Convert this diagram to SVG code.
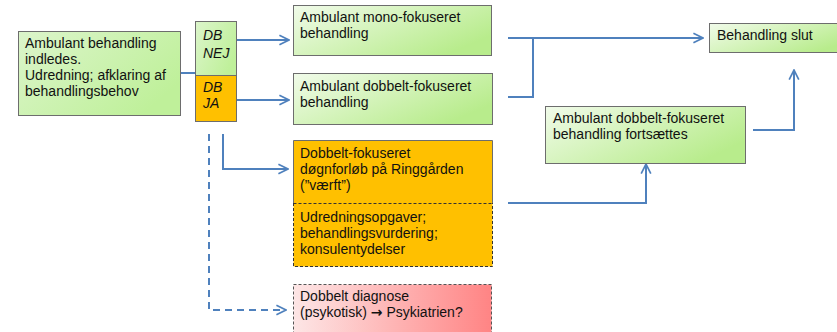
<svg xmlns="http://www.w3.org/2000/svg" width="837" height="332" viewBox="0 0 837 332">
<defs>
<linearGradient id="g" x1="0" y1="0" x2="1" y2="0.6">
<stop offset="0" stop-color="#f1fbea"/>
<stop offset="1" stop-color="#b8ec8c"/>
</linearGradient>
<linearGradient id="gl" x1="0" y1="0" x2="1" y2="0.6">
<stop offset="0" stop-color="#dcf5cb"/>
<stop offset="1" stop-color="#bff09a"/>
</linearGradient>
<linearGradient id="p" x1="0" y1="0" x2="1" y2="0">
<stop offset="0" stop-color="#fde6e6"/>
<stop offset="1" stop-color="#ff8484"/>
</linearGradient>
<marker id="a" viewBox="0 0 10 10" refX="9" refY="5" markerWidth="6" markerHeight="6" orient="auto" markerUnits="strokeWidth">
<path d="M1,1 L9,5 L1,9" fill="none" stroke="#4f81bd" stroke-width="1.4"/>
</marker>
</defs>
<style>
.b{stroke:#6d6d6d;stroke-width:1}
.t{font-family:"Liberation Sans",Arial,sans-serif;font-size:14px;fill:#111}
.i{font-style:italic}
.c{fill:none;stroke:#4f81bd;stroke-width:2}
.ar{font-family:"DejaVu Sans",sans-serif;font-weight:bold}
</style>
<g id="connectors">
<path class="c" d="M181,73 H195"/>
<path class="c" d="M236,40 H289" marker-end="url(#a)"/>
<path class="c" d="M236,100 H289" marker-end="url(#a)"/>
<path class="c" d="M223,134 V169 H288" marker-end="url(#a)"/>
<path class="c" d="M209,134 V310 H286" stroke-dasharray="7,5" marker-end="url(#a)"/>
<path class="c" d="M508,38 H703" marker-end="url(#a)"/>
<path class="c" d="M508,97 H533 V38"/>
<path class="c" d="M508,203 H646 V164" marker-end="url(#a)"/>
<path class="c" d="M753,130 H794 V70" marker-end="url(#a)"/>
</g>
<g id="start">
<rect class="b" x="18.5" y="31.5" width="162" height="84" fill="url(#gl)"/>
<text class="t" x="25" y="48">Ambulant behandling</text>
<text class="t" x="25" y="64">indledes.</text>
<text class="t" x="25" y="80">Udredning; afklaring af</text>
<text class="t" x="25" y="96">behandlingsbehov</text>
</g>
<g id="db-nej">
<rect class="b" x="195.5" y="21.5" width="41" height="54" fill="url(#gl)"/>
<text class="t i" x="203" y="40">DB</text>
<text class="t i" x="203" y="58">NEJ</text>
</g>
<g id="db-ja">
<rect class="b" x="195.5" y="75.5" width="41" height="46" fill="#ffc000"/>
<text class="t i" x="203" y="92">DB</text>
<text class="t i" x="203" y="108">JA</text>
</g>
<g id="mono">
<rect class="b" x="293.5" y="5.5" width="198" height="50" fill="url(#g)"/>
<text class="t" x="300" y="22">Ambulant mono-fokuseret</text>
<text class="t" x="300" y="38">behandling</text>
</g>
<g id="dobbelt">
<rect class="b" x="293.5" y="73.5" width="199" height="51" fill="url(#g)"/>
<text class="t" x="300" y="91">Ambulant dobbelt-fokuseret</text>
<text class="t" x="300" y="107">behandling</text>
</g>
<g id="doegn">
<rect x="293.5" y="140.5" width="199" height="126" fill="#ffc000"/>
<path d="M293.5,203 V140.5 H492.5 V203" fill="none" stroke="#6d6d6d"/>
<path d="M293.5,203 V266.5 H492.5 V203" fill="none" stroke="#333" stroke-dasharray="3,2"/>
<path d="M293.5,203.5 H492.5" fill="none" stroke="#333" stroke-dasharray="3,2"/>
<text class="t" x="300" y="158">Dobbelt-fokuseret</text>
<text class="t" x="300" y="174">døgnforløb på Ringgården</text>
<text class="t" x="300" y="190">(”værft”)</text>
<text class="t" x="300" y="222">Udredningsopgaver;</text>
<text class="t" x="300" y="238">behandlingsvurdering;</text>
<text class="t" x="300" y="254">konsulentydelser</text>
</g>
<g id="psyk">
<rect x="293.5" y="284.5" width="198" height="52" fill="url(#p)" stroke="#555" stroke-dasharray="3,2"/>
<text class="t" x="300" y="301">Dobbelt diagnose</text>
<text class="t" x="300" y="317">(psykotisk) <tspan class="ar">→</tspan> Psykiatrien?</text>
</g>
<g id="slut">
<rect class="b" x="709.5" y="23.5" width="140" height="29" fill="url(#g)"/>
<text class="t" x="717" y="40">Behandling slut</text>
</g>
<g id="fortsaettes">
<rect class="b" x="545.5" y="106.5" width="200" height="57" fill="url(#g)"/>
<text class="t" x="553" y="123">Ambulant dobbelt-fokuseret</text>
<text class="t" x="553" y="139">behandling fortsættes</text>
</g>
</svg>
